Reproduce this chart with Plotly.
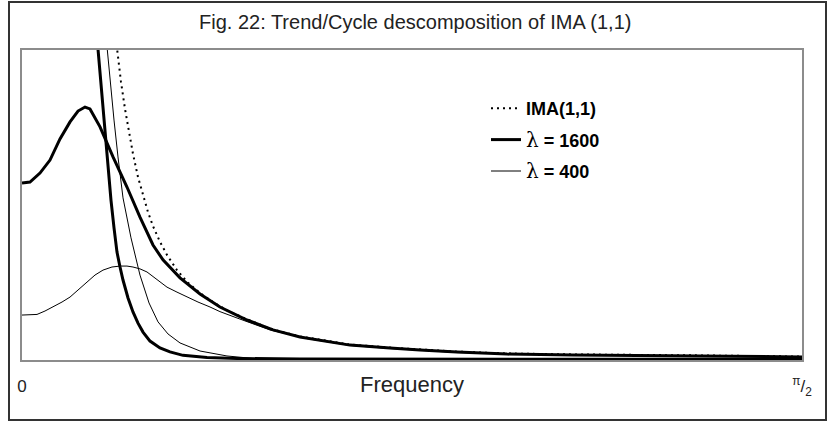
import plotly.graph_objects as go

# ---- data (frequency in radians, spectral density in arbitrary units) ----
ima_x = [0.1833, 0.1913, 0.1994, 0.2074, 0.2155, 0.2235, 0.2336, 0.2437, 0.2537, 0.2638,
         0.2779, 0.2920, 0.3121, 0.3323, 0.3585, 0.3846, 0.4128, 0.4531, 0.5055, 0.5598,
         0.6605, 0.7411, 0.8015, 0.8760, 0.9767, 1.1096, 1.3513, 1.5708]
ima_y = [11.13, 10.0, 8.97, 8.10, 7.32, 6.65, 5.90, 5.29, 4.77, 4.32,
         3.81, 3.39, 2.90, 2.52, 2.16, 1.87, 1.60, 1.31, 0.98, 0.76,
         0.50, 0.40, 0.34, 0.27, 0.21, 0.18, 0.15, 0.11]

c1600_x = [0.0, 0.0161, 0.0362, 0.0564, 0.0765, 0.0967, 0.1128, 0.1269, 0.1369, 0.1571,
           0.1833, 0.2114, 0.2376, 0.2638, 0.2839, 0.3182, 0.3585, 0.3987, 0.4531, 0.5055,
           0.5598, 0.6605, 0.7411, 0.8015, 0.8760, 0.9767, 1.1096, 1.3513, 1.5708]
c1600_y = [5.71, 5.74, 6.03, 6.45, 7.13, 7.68, 8.03, 8.16, 8.10, 7.52,
           6.55, 5.58, 4.61, 3.71, 3.23, 2.65, 2.13, 1.71, 1.29, 0.97,
           0.74, 0.48, 0.39, 0.32, 0.26, 0.19, 0.16, 0.13, 0.10]

t1600_x = [0.1480, 0.1530, 0.1571, 0.1611, 0.1671, 0.1732, 0.1792, 0.1853, 0.1913, 0.1974,
           0.2034, 0.2135, 0.2235, 0.2336, 0.2437, 0.2578, 0.2779, 0.2980, 0.3242, 0.3726,
           0.4330, 0.5598, 0.9626, 1.5708]
t1600_y = [10.97, 10.0, 9.29, 8.55, 7.35, 6.13, 5.16, 4.26, 3.48, 3.00,
           2.58, 2.00, 1.55, 1.19, 0.90, 0.61, 0.39, 0.26, 0.15, 0.08,
           0.05, 0.03, 0.026, 0.023]

c400_x = [0.0, 0.0161, 0.0302, 0.0463, 0.0624, 0.0806, 0.0967, 0.1128, 0.1309, 0.1470,
          0.1631, 0.1812, 0.1974, 0.2114, 0.2235, 0.2376, 0.2517, 0.2719, 0.2920, 0.3121,
          0.3323, 0.3544, 0.3786, 0.3987, 0.4390, 0.4994, 0.5739, 0.6605, 0.7411, 0.8760,
          1.1096, 1.3513, 1.5708]
c400_y = [1.45, 1.45, 1.47, 1.58, 1.71, 1.87, 2.03, 2.26, 2.52, 2.74,
          2.90, 3.00, 3.03, 3.03, 3.00, 2.94, 2.84, 2.58, 2.35, 2.19,
          2.03, 1.87, 1.71, 1.56, 1.32, 0.97, 0.69, 0.47, 0.37, 0.24,
          0.16, 0.13, 0.10]

t400_x = [0.1651, 0.1712, 0.1772, 0.1853, 0.1933, 0.2034, 0.2195, 0.2376, 0.2558, 0.2739,
          0.2940, 0.3182, 0.3585, 0.4128, 0.4652, 0.5598, 1.5708]
t400_y = [11.13, 10.06, 9.03, 7.74, 6.55, 5.23, 3.94, 2.74, 1.84, 1.23,
          0.84, 0.55, 0.29, 0.13, 0.05, 0.026, 0.016]

x_tickvals = [0, 1.5708]
x_ticktext = ["0", "<sup>π</sup>/<sub>2</sub>"]
title_text = "Fig. 22: Trend/Cycle descomposition of IMA (1,1)"
x_title = "Frequency"
LAM = '<span style="font-family:DejaVu Serif;font-weight:normal;font-size:20px">λ</span>'
legend_names = ["<b>IMA(1,1)</b>", LAM + " <b>= 1600</b>", LAM + " <b>= 400</b>"]

fig = go.Figure()

fig.add_trace(go.Scatter(x=c400_x, y=c400_y, mode="lines", line=dict(color="#000", width=1),
                         showlegend=False, legendgroup="c", hoverinfo="skip"))
fig.add_trace(go.Scatter(x=t400_x, y=t400_y, mode="lines", line=dict(color="#000", width=1),
                         name=legend_names[2], legendgroup="c", legendrank=3))
fig.add_trace(go.Scatter(x=ima_x, y=ima_y, mode="lines",
                         line=dict(color="#000", width=2, dash="2px,4px"),
                         name=legend_names[0], legendgroup="a", legendrank=1))
fig.add_trace(go.Scatter(x=c1600_x, y=c1600_y, mode="lines", line=dict(color="#000", width=3),
                         showlegend=False, legendgroup="b"))
fig.add_trace(go.Scatter(x=t1600_x, y=t1600_y, mode="lines", line=dict(color="#000", width=3),
                         name=legend_names[1], legendgroup="b", legendrank=2))

W, H = 832, 423
L, R, T, B = 22, 30, 50, 63
pw, ph = W - L - R, H - T - B

def px2x(px):
    return (px - L) / pw

def py2y(py):
    return (H - B - py) / ph

fig.update_layout(
    width=W, height=H,
    margin=dict(l=L, r=R, t=T, b=B, pad=0),
    paper_bgcolor="white", plot_bgcolor="white",
    font=dict(family="Liberation Sans, Arial, sans-serif", color="#000"),
    showlegend=True,
    legend=dict(x=px2x(486), y=py2y(90), xanchor="left", yanchor="top",
                bgcolor="rgba(0,0,0,0)", tracegroupgap=5, traceorder="grouped",
                font=dict(size=18, family="Liberation Sans, Arial, sans-serif"),
                itemwidth=30),
    xaxis=dict(range=[0, 1.5708], showgrid=False, zeroline=False,
               showline=True, mirror=True, linecolor="#8c8c8c", linewidth=1.5,
               tickvals=x_tickvals, ticktext=x_ticktext, ticks="outside",
               ticklen=10, tickcolor="rgba(0,0,0,0)",
               tickfont=dict(size=17, color="#222")),
    yaxis=dict(range=[0, 10], showgrid=False, zeroline=False,
               showline=True, mirror=True, linecolor="#8c8c8c", linewidth=1.5,
               showticklabels=False, ticks=""),
    annotations=[
        dict(text=title_text, xref="paper", yref="paper", x=px2x(415), y=py2y(22),
             xanchor="center", yanchor="middle", showarrow=False,
             font=dict(size=20, color="#222")),
        dict(text=x_title, xref="paper", yref="paper", x=px2x(412), y=py2y(384),
             xanchor="center", yanchor="middle", showarrow=False,
             font=dict(size=22, color="#222")),
    ],
    shapes=[
        dict(type="rect", xref="paper", yref="paper",
             x0=px2x(9), x1=px2x(826), y0=py2y(420), y1=py2y(2),
             line=dict(color="#333", width=2), layer="below"),
    ],
)

fig.write_html("out.html", config={"displayModeBar": False},
               post_script="document.body.style.margin='0px';")
